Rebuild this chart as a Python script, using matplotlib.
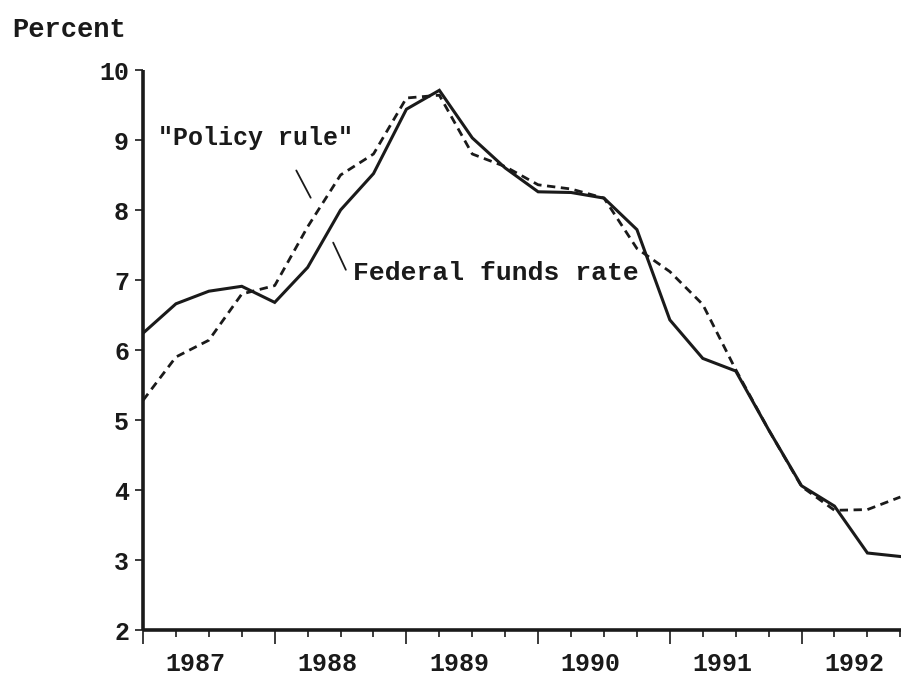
import matplotlib
matplotlib.use("Agg")
import matplotlib.pyplot as plt
import numpy as np

# Quarterly data, 1987:1 - 1992:4
quarters = 1987 + 0.25 * np.arange(24)
fed_funds = [6.24, 6.66, 6.84, 6.91, 6.68, 7.18, 8.00, 8.52,
             9.44, 9.71, 9.03, 8.60, 8.26, 8.25, 8.17, 7.72,
             6.43, 5.88, 5.70, 4.86, 4.06, 3.77, 3.10, 3.05]
policy_rule = [5.28, 5.90, 6.14, 6.80, 6.92, 7.76, 8.50, 8.80,
               9.60, 9.64, 8.80, 8.62, 8.36, 8.30, 8.17, 7.45,
               7.12, 6.65, 5.72, 4.86, 4.05, 3.71, 3.72, 3.90]
years = [1987, 1988, 1989, 1990, 1991, 1992]
yticks = [2, 3, 4, 5, 6, 7, 8, 9, 10]

font = "Liberation Mono"
plt.rcParams["font.family"] = [font, "DejaVu Sans Mono"]
plt.rcParams["font.weight"] = "bold"
ink = "#1a1a1a"

fig = plt.figure(figsize=(9.01, 6.76), dpi=100)
ax = fig.add_axes([143 / 901, 1 - 630 / 676, 1 - 143 / 901, 560 / 676])

# Series
ax.plot(quarters, fed_funds, color=ink, lw=2.2, solid_joinstyle="miter")
ax.plot(quarters, policy_rule, color=ink, lw=2.0, linestyle=(0, (3, 2)))

ax.set_xlim(1987, 1992.755)
ax.set_ylim(2, 10)

# Spines
for side in ["top", "right"]:
    ax.spines[side].set_visible(False)
for side in ["left", "bottom"]:
    ax.spines[side].set_linewidth(2.6)
    ax.spines[side].set_color(ink)
    ax.spines[side].set_capstyle("butt")

# Y axis
ax.set_yticks(yticks)
ax.set_yticklabels([str(v) for v in yticks], fontsize=18, fontweight="bold")
ax.tick_params(axis="y", direction="out", length=6, width=1.2, pad=4, colors=ink)

# X axis: long ticks at year starts, short ones every quarter, labels mid-year
ax.set_xticks(years)
ax.set_xticklabels([""] * len(years))
ax.set_xticks(quarters, minor=True)
ax.tick_params(axis="x", which="major", direction="out", length=10, width=1.2, colors=ink)
ax.tick_params(axis="x", which="minor", direction="out", length=5, width=1.2, colors=ink)
for yr in years:
    ax.text(yr + 0.4, -0.06, str(yr), transform=ax.get_xaxis_transform(),
            ha="center", va="center", fontsize=18, fontweight="bold", color=ink)

# Labels and leader lines
fig.text(12 / 901, 1 - 30 / 676, "Percent", ha="left", va="center",
         fontsize=19.5, fontweight="bold", color=ink)
ax.text(1987.114, 9.03, '"Policy rule"', ha="left", va="center",
        fontsize=18, fontweight="bold", color=ink)
ax.text(1988.595, 7.10, "Federal funds rate", ha="left", va="center",
        fontsize=19, fontweight="bold", color=ink)
ax.annotate("", xy=(1988.283, 8.14), xytext=(1988.154, 8.60),
            arrowprops=dict(arrowstyle="-", color=ink, lw=1.3))
ax.annotate("", xy=(1988.549, 7.11), xytext=(1988.435, 7.57),
            arrowprops=dict(arrowstyle="-", color=ink, lw=1.3))

fig.savefig("out.png", dpi=100, facecolor="white")
